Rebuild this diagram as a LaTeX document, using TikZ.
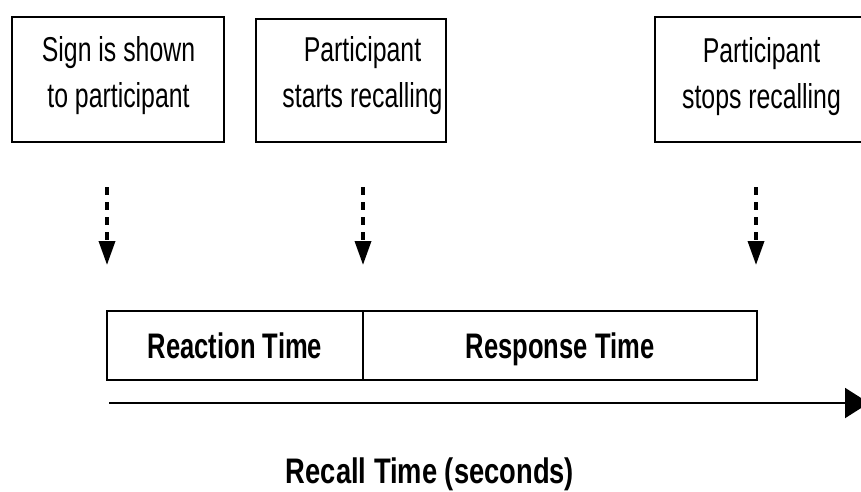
\documentclass[tikz,border=0pt]{standalone}
\usepackage{fontspec}
\setmainfont{Liberation Sans}
\newfontfamily\topfont[FakeStretch=0.72]{Liberation Sans}
\newfontfamily\midfont[FakeStretch=0.72]{Liberation Sans}
\newfontfamily\axfont[FakeStretch=0.77]{Liberation Sans}
\usetikzlibrary{arrows.meta}
\begin{document}
\begin{tikzpicture}[x=1pt,y=-1pt,
  evbox/.style={draw=black,line width=2pt,inner sep=0pt},
  evtext/.style={font=\topfont\fontsize{34.5}{46}\selectfont,align=center,inner sep=0pt},
  phase/.style={draw=black,line width=2pt,minimum height=69pt,inner sep=0pt,
    font=\midfont\bfseries\fontsize{35.5}{42}\selectfont,text height=25pt,text depth=0pt},
  marker/.style={line width=3.5pt,dash pattern=on 8pt off 7pt,
    -{Triangle[width=16pt,length=24pt]}},
  timeaxis/.style={line width=2pt,-{Triangle[width=30pt,length=24pt]}},
  axlabel/.style={font=\axfont\bfseries\fontsize{35.5}{42}\selectfont,inner sep=0pt,anchor=base}]
\useasboundingbox (0,0) rectangle (861,491);
\clip (0,0) rectangle (861,491);
% event boxes
\node[evbox,minimum width=212pt,minimum height=125pt] (b1) at (118,79.5) {};
\node[evbox,minimum width=190pt,minimum height=123pt] (b2) at (351,80.5) {};
\node[evbox,minimum width=215pt,minimum height=125pt] (b3) at (762.5,79.5) {};
\node[evtext] (t1) at (118.5,76) {Sign is shown\\to participant};
\node[evtext] (t2) at (362.5,76) {Participant\\starts recalling};
\node[evtext] (t3) at (761.5,76.5) {Participant\\stops recalling};
% markers
\coordinate (m1s) at (107,187); \coordinate (m1e) at (107,265);
\coordinate (m2s) at (363,187); \coordinate (m2e) at (363,265);
\coordinate (m3s) at (756,187); \coordinate (m3e) at (756,265);
\draw[marker] (m1s) -- (m1e);
\draw[marker] (m2s) -- (m2e);
\draw[marker] (m3s) -- (m3e);
% phases
\node[phase,minimum width=256pt] (react) at (235,345.5) {Reaction Time};
\node[phase,minimum width=394pt] (resp) at (560,345.5) {Response Time};
% axis
\coordinate (ax0) at (109,403);
\coordinate (ax1) at (869,403);
\draw[timeaxis] (ax0) -- (ax1);
\node[axlabel] (lab) at (430,483) {Recall Time (seconds)};
\end{tikzpicture}
\end{document}
